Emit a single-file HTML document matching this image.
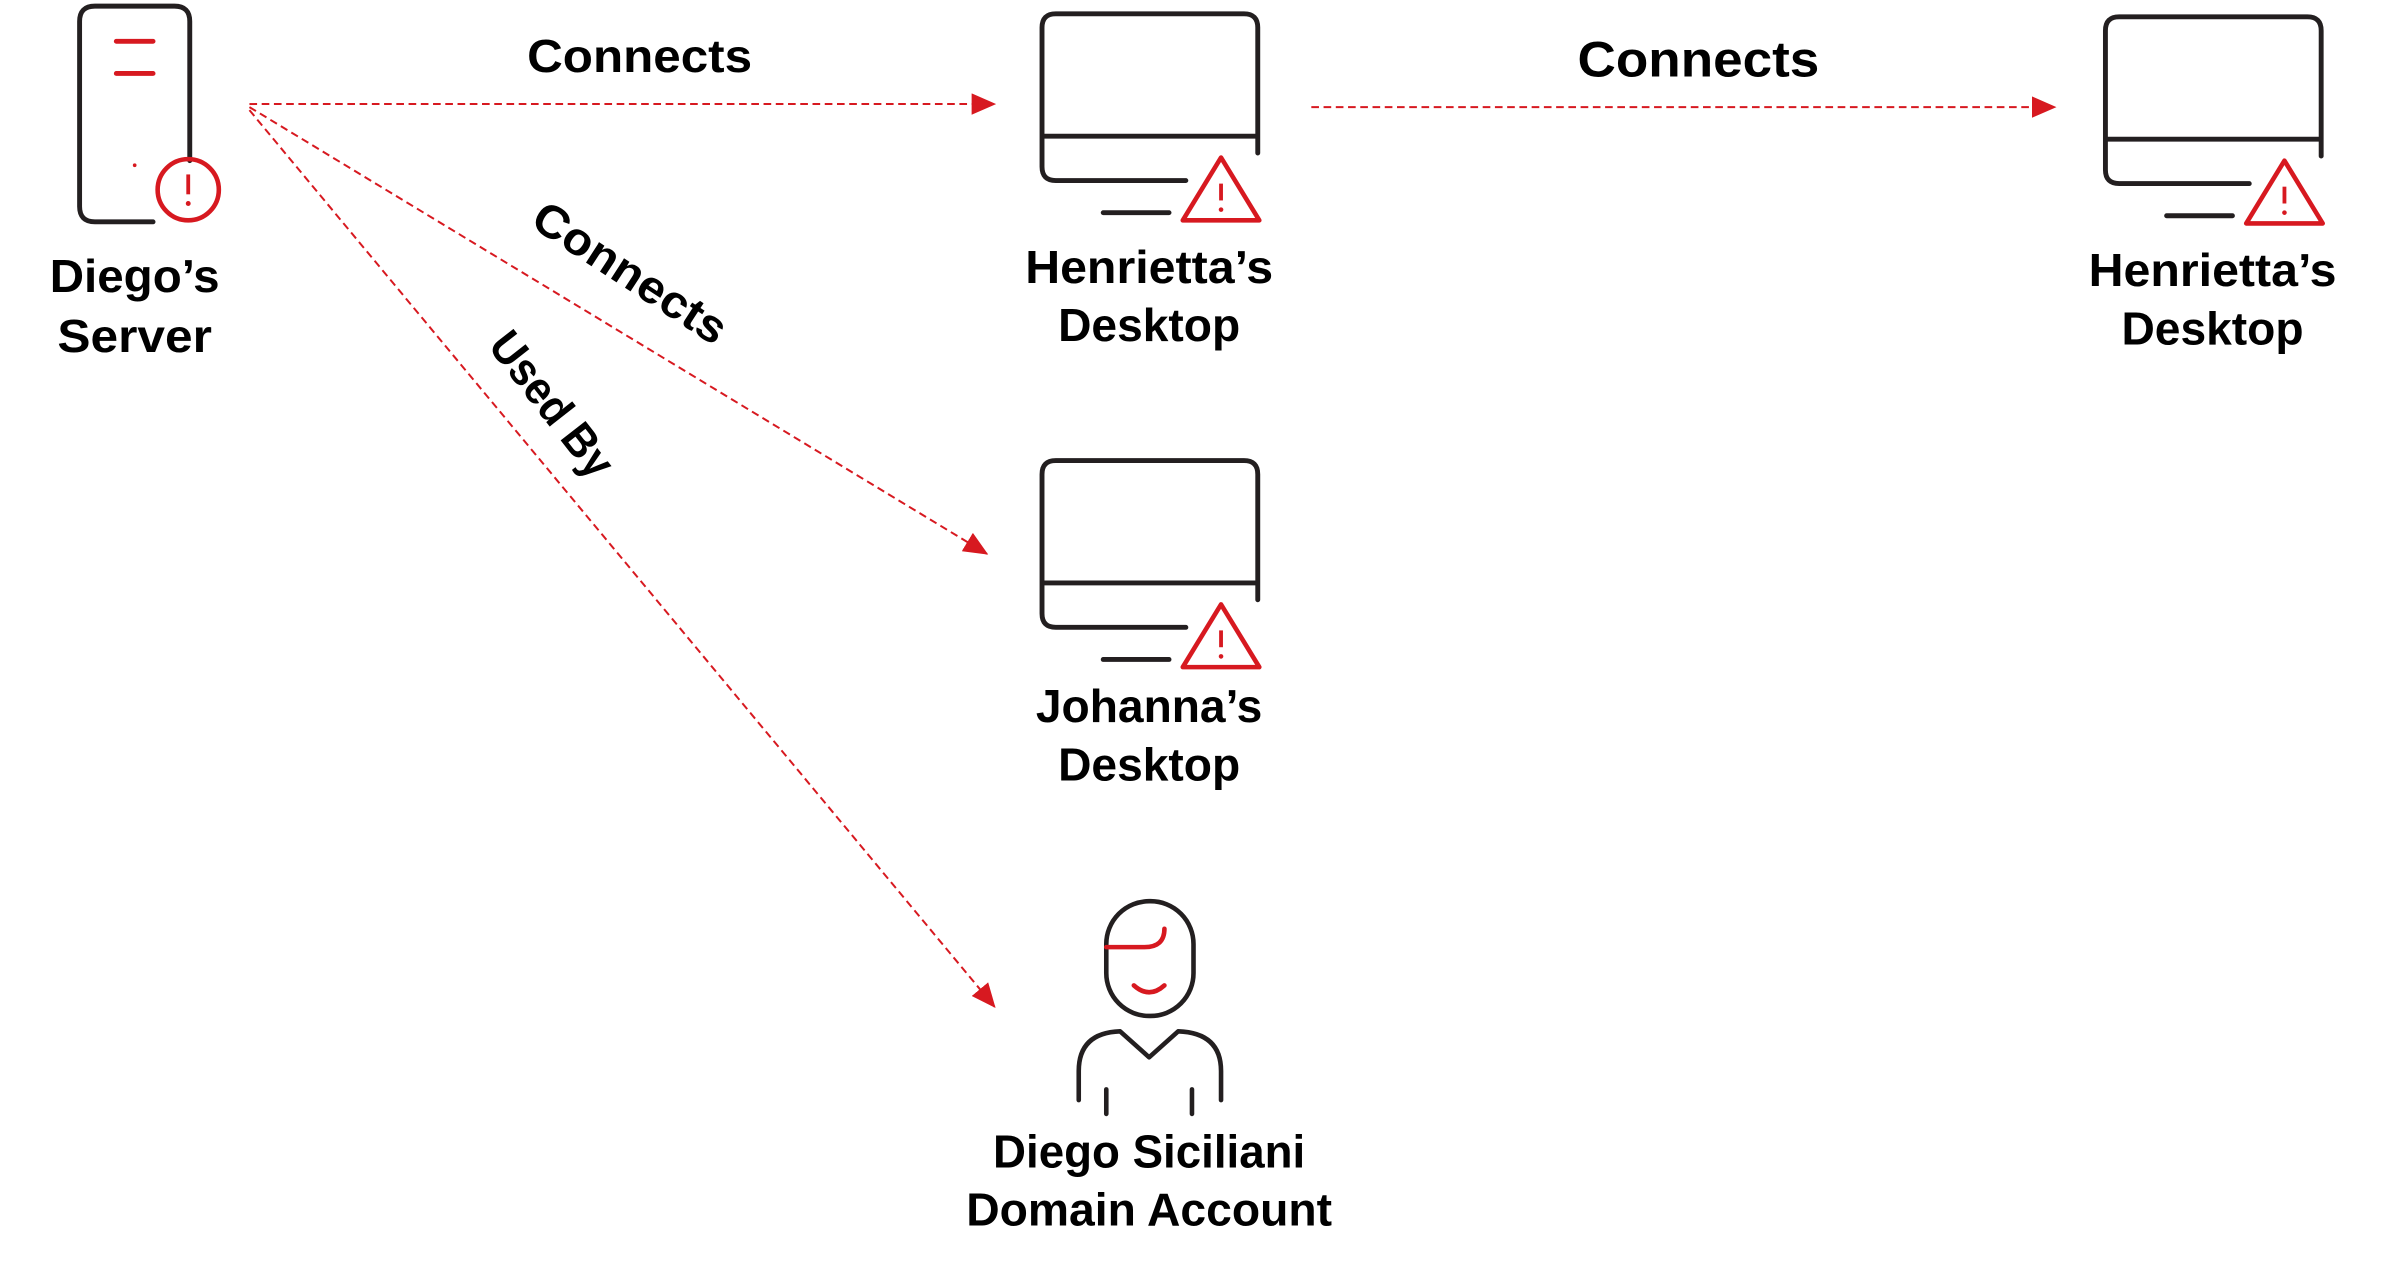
<!DOCTYPE html>
<html><head><meta charset="utf-8"><style>
html,body{margin:0;padding:0;background:#fff;}
svg{display:block}
text{font-family:"Liberation Sans",sans-serif;font-weight:bold;fill:#000;}
</style></head><body>
<svg width="2387" height="1265" viewBox="0 0 1560 826.75" xmlns="http://www.w3.org/2000/svg">
<defs>
<marker id="ah" markerWidth="16" markerHeight="14" refX="15" refY="7" orient="auto" markerUnits="userSpaceOnUse" viewBox="0 0 16 14">
<path d="M0,0 L16,7 L0,14 Z" fill="#d71920"/>
</marker>
<g id="desk">
<path d="M775,118 H690 Q681,118 681,109 V18 Q681,9 690,9 H813 Q822,9 822,18 V100" fill="none" stroke="#231f20" stroke-width="3.2" stroke-linecap="round"/>
<line x1="681" y1="89" x2="822" y2="89" stroke="#231f20" stroke-width="3.2"/>
<line x1="721" y1="139" x2="764" y2="139" stroke="#231f20" stroke-width="3.2" stroke-linecap="round"/>
<path d="M798,103 L823,144 H773 Z" fill="none" stroke="#d71920" stroke-width="3" stroke-linejoin="round"/>
<line x1="798" y1="120" x2="798" y2="131" stroke="#d71920" stroke-width="2.5"/>
<circle cx="798" cy="137" r="1.5" fill="#d71920"/>
</g>
</defs>

<!-- Server -->
<path d="M124,105 V14 Q124,4 114,4 H62 Q52,4 52,14 V135 Q52,145 62,145 H100" fill="none" stroke="#231f20" stroke-width="3.2" stroke-linecap="round"/>
<line x1="76" y1="27" x2="100" y2="27" stroke="#d71920" stroke-width="3.2" stroke-linecap="round"/>
<line x1="76" y1="48" x2="100" y2="48" stroke="#d71920" stroke-width="3.2" stroke-linecap="round"/>
<circle cx="88" cy="108" r="1.2" fill="#d71920"/>
<circle cx="123" cy="124" r="20" fill="none" stroke="#d71920" stroke-width="3"/>
<line x1="123" y1="114" x2="123" y2="127" stroke="#d71920" stroke-width="2.5"/>
<circle cx="123" cy="133" r="1.6" fill="#d71920"/>
<text x="88" y="191" font-size="30" text-anchor="middle" textLength="111" lengthAdjust="spacingAndGlyphs">Diego’s</text>
<text x="88" y="230" font-size="30" text-anchor="middle" textLength="101" lengthAdjust="spacingAndGlyphs">Server</text>

<!-- Arrows -->
<g stroke="#d71920" stroke-width="1.3" stroke-dasharray="5,3" fill="none">
<line x1="163" y1="68" x2="650" y2="68" marker-end="url(#ah)"/>
<line x1="163" y1="70" x2="645" y2="362" marker-end="url(#ah)"/>
<line x1="163" y1="72" x2="650" y2="658" marker-end="url(#ah)"/>
<line x1="857" y1="70" x2="1343" y2="70" marker-end="url(#ah)"/>
</g>
<text x="418" y="47" font-size="30" text-anchor="middle" textLength="147" lengthAdjust="spacingAndGlyphs">Connects</text>
<text x="1110" y="50" font-size="33" text-anchor="middle" textLength="158" lengthAdjust="spacingAndGlyphs">Connects</text>
<text transform="translate(412,178) rotate(33)" font-size="30" text-anchor="middle" dominant-baseline="central" textLength="145" lengthAdjust="spacingAndGlyphs">Connects</text>
<text transform="translate(361,264) rotate(52)" font-size="30" text-anchor="middle" dominant-baseline="central" textLength="112" lengthAdjust="spacingAndGlyphs">Used By</text>

<!-- Desktops -->
<use href="#desk"/>
<use href="#desk" transform="translate(695,2)"/>
<use href="#desk" transform="translate(0,292)"/>
<text x="751" y="185" font-size="30" text-anchor="middle" textLength="162" lengthAdjust="spacingAndGlyphs">Henrietta’s</text>
<text x="751" y="223" font-size="30" text-anchor="middle" textLength="119" lengthAdjust="spacingAndGlyphs">Desktop</text>
<text x="1446" y="187" font-size="30" text-anchor="middle" textLength="162" lengthAdjust="spacingAndGlyphs">Henrietta’s</text>
<text x="1446" y="225" font-size="30" text-anchor="middle" textLength="119" lengthAdjust="spacingAndGlyphs">Desktop</text>
<text x="751" y="472" font-size="30" text-anchor="middle" textLength="148" lengthAdjust="spacingAndGlyphs">Johanna’s</text>
<text x="751" y="510" font-size="30" text-anchor="middle" textLength="119" lengthAdjust="spacingAndGlyphs">Desktop</text>

<!-- Person -->
<rect x="723" y="589" width="57" height="75" rx="28" fill="none" stroke="#231f20" stroke-width="3"/>
<path d="M723,619 H748 Q761,619 761,607" fill="none" stroke="#d71920" stroke-width="3" stroke-linecap="round"/>
<path d="M741,644 Q751,653 761,644" fill="none" stroke="#d71920" stroke-width="3" stroke-linecap="round"/>
<path d="M705,719 V700 Q705,675 732,674 L751,691 L770,674 Q798,675 798,700 V719" fill="none" stroke="#231f20" stroke-width="3" stroke-linecap="round" stroke-linejoin="round"/>
<line x1="723" y1="712" x2="723" y2="728" stroke="#231f20" stroke-width="3" stroke-linecap="round"/>
<line x1="779" y1="712" x2="779" y2="728" stroke="#231f20" stroke-width="3" stroke-linecap="round"/>
<text x="751" y="763" font-size="30" text-anchor="middle" textLength="204" lengthAdjust="spacingAndGlyphs">Diego Siciliani</text>
<text x="751" y="801" font-size="30" text-anchor="middle" textLength="239" lengthAdjust="spacingAndGlyphs">Domain Account</text>
</svg>
</body></html>
